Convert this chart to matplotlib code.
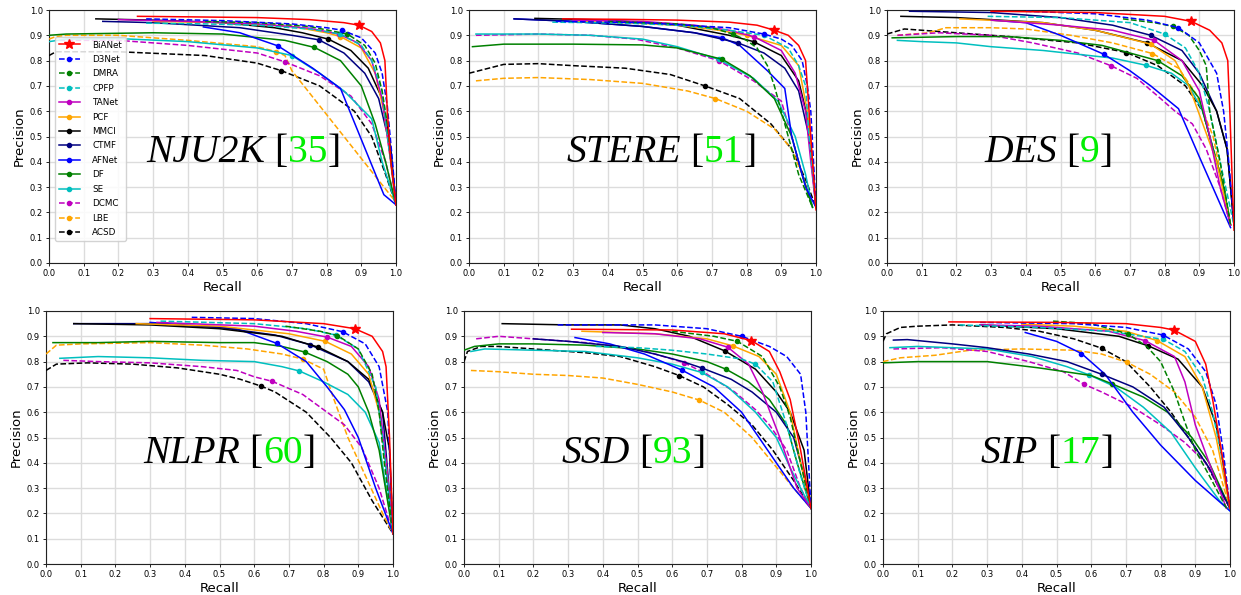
import matplotlib
matplotlib.use('Agg')
import matplotlib.pyplot as plt
import numpy as np

METHODS = ['BiANet', 'D3Net', 'DMRA', 'CPFP', 'TANet', 'PCF', 'MMCI', 'CTMF',
           'AFNet', 'DF', 'SE', 'DCMC', 'LBE', 'ACSD']
COLORS = ['r', 'b', 'g', 'c', 'm', 'orange', 'k', 'navy',
          'b', 'g', 'c', 'm', 'orange', 'k']
STYLES = ['-', '--', '--', '--', '-', '-', '-', '-', '-', '-', '-', '--', '--', '--']
MARKERS = ['*'] + ['o'] * 13

# each entry: (recall list, precision list, recall of the max-F marker)
NJU2K = {
    'BiANet': ([0.255, 0.4, 0.6, 0.75, 0.85, 0.893, 0.93, 0.955, 0.968, 0.975, 0.985, 1.0],
               [0.975, 0.973, 0.97, 0.962, 0.95, 0.94, 0.915, 0.87, 0.80, 0.60, 0.40, 0.23], 0.893),
    'D3Net': ([0.28, 0.5, 0.7, 0.8, 0.845, 0.9, 0.94, 0.96, 0.975, 0.99, 1.0],
              [0.965, 0.958, 0.945, 0.93, 0.92, 0.89, 0.83, 0.75, 0.62, 0.40, 0.23], 0.845),
    'DMRA': ([0.45, 0.6, 0.75, 0.86, 0.91, 0.94, 0.96, 0.975, 0.99, 1.0],
             [0.955, 0.95, 0.935, 0.905, 0.86, 0.79, 0.68, 0.55, 0.35, 0.23], 0.86),
    'CPFP': ([0.28, 0.45, 0.6, 0.75, 0.84, 0.9, 0.93, 0.96, 0.98, 1.0],
             [0.948, 0.945, 0.94, 0.925, 0.905, 0.86, 0.8, 0.68, 0.45, 0.23], 0.84),
    'TANet': ([0.2, 0.4, 0.6, 0.75, 0.835, 0.89, 0.93, 0.96, 0.985, 1.0],
              [0.962, 0.955, 0.945, 0.928, 0.905, 0.87, 0.8, 0.65, 0.4, 0.23], 0.835),
    'PCF': ([0.3, 0.5, 0.7, 0.8, 0.84, 0.9, 0.94, 0.965, 0.985, 1.0],
            [0.955, 0.95, 0.935, 0.91, 0.895, 0.85, 0.75, 0.6, 0.4, 0.23], 0.84),
    'MMCI': ([0.135, 0.3, 0.5, 0.65, 0.73, 0.805, 0.87, 0.92, 0.96, 0.98, 1.0],
             [0.965, 0.96, 0.95, 0.93, 0.91, 0.885, 0.84, 0.77, 0.65, 0.5, 0.23], 0.805),
    'CTMF': ([0.155, 0.3, 0.55, 0.7, 0.778, 0.85, 0.91, 0.95, 0.985, 1.0],
             [0.955, 0.95, 0.93, 0.9, 0.882, 0.83, 0.75, 0.65, 0.45, 0.23], 0.778),
    'AFNet': ([0.445, 0.55, 0.66, 0.76, 0.84, 0.965, 1.0],
              [0.933, 0.91, 0.858, 0.77, 0.69, 0.27, 0.23], 0.66),
    'DF': ([0.0, 0.05, 0.3, 0.5, 0.68, 0.765, 0.84, 0.9, 0.94, 0.97, 1.0],
           [0.9, 0.905, 0.91, 0.905, 0.88, 0.852, 0.8, 0.7, 0.55, 0.4, 0.23], 0.765),
    'SE': ([0.0, 0.05, 0.2, 0.4, 0.6, 0.7, 0.78, 0.85, 0.93, 0.96, 1.0],
           [0.875, 0.885, 0.887, 0.875, 0.85, 0.82, 0.75, 0.68, 0.57, 0.4, 0.23], 0.7),
    'DCMC': ([0.03, 0.2, 0.4, 0.6, 0.68, 0.78, 0.87, 0.93, 0.97, 1.0],
             [0.88, 0.88, 0.86, 0.83, 0.795, 0.74, 0.66, 0.55, 0.4, 0.23], 0.68),
    'LBE': ([0.0, 0.02, 0.05, 0.2, 0.4, 0.6, 0.655, 0.68, 0.7, 1.0],
            [0.885, 0.895, 0.9, 0.9, 0.88, 0.855, 0.835, 0.82, 0.76, 0.24], 0.655),
    'ACSD': ([0.0, 0.02, 0.2, 0.45, 0.6, 0.67, 0.78, 0.88, 0.93, 0.97, 1.0],
             [0.82, 0.835, 0.835, 0.82, 0.79, 0.76, 0.7, 0.6, 0.5, 0.35, 0.23], 0.67),
}

STERE = {
    'BiANet': ([0.27, 0.45, 0.6, 0.75, 0.83, 0.88, 0.92, 0.95, 0.97, 0.98, 0.99, 1.0],
               [0.965, 0.963, 0.96, 0.952, 0.94, 0.92, 0.9, 0.86, 0.8, 0.6, 0.4, 0.21], 0.88),
    'D3Net': ([0.25, 0.5, 0.75, 0.85, 0.9, 0.93, 0.96, 0.975, 0.985, 1.0],
              [0.955, 0.95, 0.93, 0.905, 0.885, 0.86, 0.8, 0.7, 0.6, 0.22], 0.85),
    'DMRA': ([0.4, 0.6, 0.7, 0.76, 0.8, 0.83, 0.86, 0.88, 0.9, 0.95, 0.99],
             [0.955, 0.945, 0.93, 0.905, 0.88, 0.85, 0.78, 0.7, 0.6, 0.35, 0.22], 0.76),
    'CPFP': ([0.24, 0.45, 0.6, 0.75, 0.85, 0.92, 0.95, 0.97, 0.98, 1.0],
             [0.952, 0.948, 0.94, 0.92, 0.9, 0.85, 0.78, 0.7, 0.5, 0.22], 0.85),
    'TANet': ([0.3, 0.5, 0.65, 0.75, 0.82, 0.9, 0.94, 0.97, 0.985, 1.0],
              [0.96, 0.955, 0.94, 0.92, 0.895, 0.84, 0.75, 0.6, 0.4, 0.22], 0.82),
    'PCF': ([0.3, 0.45, 0.6, 0.72, 0.8, 0.9, 0.95, 0.975, 0.99, 1.0],
            [0.955, 0.95, 0.94, 0.92, 0.9, 0.86, 0.78, 0.6, 0.4, 0.22], 0.8),
    'MMCI': ([0.19, 0.4, 0.6, 0.75, 0.82, 0.9, 0.95, 0.98, 1.0],
             [0.967, 0.96, 0.94, 0.9, 0.875, 0.82, 0.72, 0.55, 0.22], 0.82),
    'CTMF': ([0.13, 0.3, 0.5, 0.65, 0.775, 0.85, 0.91, 0.95, 0.98, 1.0],
             [0.965, 0.955, 0.935, 0.91, 0.87, 0.83, 0.77, 0.68, 0.5, 0.22], 0.775),
    'AFNet': ([0.13, 0.3, 0.5, 0.65, 0.73, 0.78, 0.86, 0.91, 0.93, 0.97, 1.0],
              [0.965, 0.955, 0.935, 0.91, 0.89, 0.86, 0.76, 0.69, 0.5, 0.3, 0.22], 0.73),
    'DF': ([0.01, 0.1, 0.3, 0.5, 0.6, 0.73, 0.81, 0.88, 0.93, 0.96, 0.99],
           [0.855, 0.865, 0.865, 0.862, 0.85, 0.805, 0.74, 0.65, 0.5, 0.35, 0.22], 0.73),
    'SE': ([0.02, 0.2, 0.35, 0.5, 0.6, 0.72, 0.82, 0.89, 0.94, 0.97, 0.99],
           [0.905, 0.905, 0.9, 0.885, 0.855, 0.805, 0.73, 0.64, 0.5, 0.35, 0.22], 0.72),
    'DCMC': ([0.02, 0.2, 0.35, 0.48, 0.6, 0.72, 0.82, 0.9, 0.93, 0.96, 0.99],
             [0.9, 0.905, 0.9, 0.885, 0.85, 0.8, 0.72, 0.64, 0.5, 0.35, 0.22], 0.72),
    'LBE': ([0.02, 0.1, 0.2, 0.35, 0.5, 0.63, 0.71, 0.8, 0.88, 0.93, 0.96, 0.99],
            [0.72, 0.73, 0.733, 0.725, 0.71, 0.68, 0.65, 0.6, 0.53, 0.45, 0.35, 0.22], 0.71),
    'ACSD': ([0.0, 0.1, 0.2, 0.3, 0.45, 0.58, 0.68, 0.78, 0.87, 0.93, 0.97, 1.0],
             [0.75, 0.785, 0.788, 0.78, 0.77, 0.745, 0.7, 0.65, 0.55, 0.45, 0.33, 0.22], 0.68),
}

DES = {
    'BiANet': ([0.3, 0.6, 0.8, 0.877, 0.93, 0.965, 0.982, 0.988, 0.993, 1.0],
               [0.995, 0.99, 0.975, 0.955, 0.92, 0.87, 0.8, 0.6, 0.4, 0.13], 0.877),
    'D3Net': ([0.4, 0.6, 0.75, 0.84, 0.9, 0.95, 0.97, 0.985, 1.0],
              [0.995, 0.985, 0.96, 0.93, 0.87, 0.75, 0.6, 0.4, 0.15], 0.84),
    'DMRA': ([0.68, 0.77, 0.825, 0.87, 0.9, 0.92, 0.93, 0.96, 0.99],
             [0.965, 0.95, 0.935, 0.9, 0.84, 0.78, 0.6, 0.4, 0.15], 0.825),
    'CPFP': ([0.29, 0.5, 0.7, 0.8, 0.86, 0.9, 0.93, 0.96, 1.0],
             [0.975, 0.97, 0.95, 0.905, 0.85, 0.75, 0.6, 0.4, 0.15], 0.8),
    'TANet': ([0.3, 0.5, 0.65, 0.77, 0.85, 0.9, 0.93, 0.96, 0.99],
              [0.96, 0.94, 0.92, 0.88, 0.8, 0.68, 0.5, 0.3, 0.15], 0.77),
    'PCF': ([0.21, 0.45, 0.6, 0.76, 0.83, 0.87, 0.91, 0.95, 0.99],
            [0.965, 0.95, 0.92, 0.865, 0.8, 0.7, 0.55, 0.4, 0.15], 0.76),
    'MMCI': ([0.04, 0.2, 0.45, 0.6, 0.75, 0.85, 0.91, 0.95, 0.98, 1.0],
             [0.975, 0.97, 0.95, 0.92, 0.87, 0.8, 0.7, 0.6, 0.45, 0.15], 0.75),
    'CTMF': ([0.065, 0.3, 0.5, 0.65, 0.76, 0.85, 0.9, 0.95, 0.98, 1.0],
             [0.995, 0.99, 0.97, 0.94, 0.9, 0.84, 0.75, 0.6, 0.45, 0.15], 0.76),
    'AFNet': ([0.3, 0.4, 0.5, 0.625, 0.7, 0.76, 0.84, 0.9, 0.99],
              [0.96, 0.95, 0.9, 0.825, 0.76, 0.7, 0.61, 0.42, 0.14], 0.625),
    'DF': ([0.015, 0.2, 0.35, 0.5, 0.62, 0.7, 0.78, 0.85, 0.9, 0.93, 0.97, 0.99],
           [0.89, 0.895, 0.895, 0.88, 0.86, 0.83, 0.8, 0.74, 0.65, 0.5, 0.3, 0.15], 0.78),
    'SE': ([0.03, 0.1, 0.2, 0.3, 0.45, 0.55, 0.65, 0.745, 0.82, 0.87, 0.91, 0.94, 0.97, 0.99],
           [0.88, 0.875, 0.87, 0.855, 0.84, 0.825, 0.81, 0.782, 0.75, 0.7, 0.6, 0.45, 0.3, 0.15], 0.745),
    'DCMC': ([0.03, 0.15, 0.3, 0.42, 0.55, 0.645, 0.72, 0.78, 0.83, 0.88, 0.92, 0.96, 0.99],
             [0.9, 0.91, 0.9, 0.87, 0.83, 0.78, 0.73, 0.66, 0.6, 0.55, 0.45, 0.3, 0.15], 0.645),
    'LBE': ([0.03, 0.12, 0.17, 0.3, 0.4, 0.53, 0.65, 0.765, 0.84, 0.89, 0.94, 0.97, 0.99],
            [0.9, 0.91, 0.93, 0.93, 0.925, 0.9, 0.87, 0.828, 0.77, 0.67, 0.5, 0.3, 0.15], 0.765),
    'ACSD': ([0.0, 0.05, 0.1, 0.2, 0.35, 0.55, 0.69, 0.78, 0.86, 0.91, 0.94, 0.97, 0.99],
             [0.905, 0.925, 0.92, 0.91, 0.895, 0.87, 0.832, 0.78, 0.7, 0.6, 0.45, 0.3, 0.15], 0.69),
}

NLPR = {
    'BiANet': ([0.3, 0.6, 0.8, 0.89, 0.94, 0.97, 0.98, 0.99, 1.0],
               [0.97, 0.965, 0.95, 0.93, 0.9, 0.84, 0.78, 0.5, 0.12], 0.89),
    'D3Net': ([0.42, 0.6, 0.75, 0.855, 0.92, 0.96, 0.985, 1.0],
              [0.975, 0.97, 0.95, 0.918, 0.87, 0.78, 0.6, 0.12], 0.855),
    'DMRA': ([0.69, 0.79, 0.84, 0.9, 0.94, 0.96, 0.975, 1.0],
             [0.94, 0.92, 0.903, 0.85, 0.75, 0.6, 0.4, 0.12], 0.84),
    'CPFP': ([0.33, 0.6, 0.75, 0.835, 0.9, 0.95, 0.97, 1.0],
             [0.96, 0.95, 0.93, 0.905, 0.85, 0.7, 0.5, 0.12], 0.835),
    'TANet': ([0.32, 0.6, 0.72, 0.81, 0.88, 0.93, 0.96, 0.98, 1.0],
              [0.955, 0.94, 0.92, 0.897, 0.86, 0.78, 0.65, 0.4, 0.12], 0.81),
    'PCF': ([0.26, 0.5, 0.7, 0.805, 0.88, 0.93, 0.96, 0.98, 1.0],
            [0.95, 0.94, 0.91, 0.88, 0.83, 0.75, 0.6, 0.4, 0.12], 0.805),
    'MMCI': ([0.08, 0.3, 0.5, 0.68, 0.785, 0.87, 0.93, 0.97, 0.99, 1.0],
             [0.95, 0.945, 0.93, 0.9, 0.857, 0.8, 0.73, 0.6, 0.45, 0.12], 0.785),
    'CTMF': ([0.08, 0.3, 0.5, 0.66, 0.76, 0.87, 0.93, 0.97, 1.0],
             [0.95, 0.95, 0.935, 0.905, 0.867, 0.8, 0.72, 0.6, 0.12], 0.76),
    'AFNet': ([0.3, 0.55, 0.665, 0.75, 0.81, 0.86, 0.9, 0.95, 1.0],
              [0.955, 0.93, 0.872, 0.8, 0.7, 0.61, 0.5, 0.3, 0.12], 0.665),
    'DF': ([0.02, 0.15, 0.3, 0.5, 0.6, 0.68, 0.745, 0.81, 0.87, 0.9, 0.93, 0.96, 1.0],
           [0.875, 0.875, 0.88, 0.875, 0.875, 0.86, 0.838, 0.8, 0.75, 0.7, 0.6, 0.45, 0.12], 0.745),
    'SE': ([0.04, 0.15, 0.3, 0.45, 0.6, 0.68, 0.73, 0.8, 0.87, 0.92, 0.96, 0.98, 1.0],
           [0.813, 0.82, 0.815, 0.805, 0.8, 0.78, 0.763, 0.72, 0.67, 0.6, 0.48, 0.3, 0.12], 0.73),
    'DCMC': ([0.05, 0.15, 0.3, 0.45, 0.55, 0.6, 0.652, 0.74, 0.8, 0.86, 0.91, 0.96, 1.0],
             [0.805, 0.8, 0.795, 0.78, 0.765, 0.74, 0.722, 0.67, 0.61, 0.55, 0.46, 0.3, 0.12], 0.652),
    'LBE': ([0.0, 0.03, 0.1, 0.3, 0.45, 0.58, 0.68, 0.74, 0.8, 0.83, 0.87, 0.92, 0.97, 1.0],
            [0.83, 0.865, 0.87, 0.875, 0.865, 0.85, 0.83, 0.81, 0.77, 0.65, 0.5, 0.35, 0.2, 0.12], 0.74),
    'ACSD': ([0.0, 0.03, 0.12, 0.25, 0.38, 0.5, 0.56, 0.62, 0.66, 0.75, 0.82, 0.88, 0.94, 1.0],
             [0.765, 0.79, 0.795, 0.79, 0.775, 0.75, 0.73, 0.703, 0.68, 0.6, 0.5, 0.4, 0.25, 0.12], 0.62),
}

SSD = {
    'BiANet': ([0.31, 0.6, 0.75, 0.828, 0.88, 0.91, 0.94, 0.97, 1.0],
               [0.928, 0.925, 0.91, 0.883, 0.84, 0.76, 0.65, 0.45, 0.22], 0.828),
    'D3Net': ([0.27, 0.55, 0.7, 0.8, 0.88, 0.93, 0.97, 0.985, 1.0],
              [0.945, 0.945, 0.93, 0.9, 0.86, 0.82, 0.75, 0.6, 0.22], 0.8),
    'DMRA': ([0.6, 0.72, 0.788, 0.86, 0.91, 0.94, 0.97, 1.0],
             [0.92, 0.9, 0.88, 0.82, 0.7, 0.58, 0.4, 0.22], 0.788),
    'CPFP': ([0.38, 0.5, 0.6, 0.7, 0.8, 0.84, 0.89, 0.93, 0.97, 1.0],
             [0.86, 0.855, 0.845, 0.83, 0.81, 0.79, 0.72, 0.55, 0.35, 0.22], 0.84),
    'TANet': ([0.4, 0.55, 0.68, 0.76, 0.82, 0.86, 0.91, 0.96, 1.0],
              [0.915, 0.91, 0.89, 0.857, 0.79, 0.68, 0.5, 0.3, 0.22], 0.76),
    'PCF': ([0.34, 0.55, 0.7, 0.775, 0.85, 0.9, 0.94, 0.97, 1.0],
            [0.92, 0.91, 0.89, 0.862, 0.82, 0.75, 0.6, 0.4, 0.22], 0.775),
    'MMCI': ([0.11, 0.3, 0.45, 0.55, 0.65, 0.752, 0.84, 0.9, 0.94, 0.98, 1.0],
             [0.95, 0.945, 0.945, 0.93, 0.9, 0.842, 0.77, 0.68, 0.6, 0.45, 0.22], 0.752),
    'CTMF': ([0.2, 0.3, 0.45, 0.55, 0.63, 0.685, 0.77, 0.83, 0.9, 0.95, 0.98, 1.0],
             [0.89, 0.88, 0.86, 0.83, 0.8, 0.775, 0.73, 0.68, 0.6, 0.5, 0.35, 0.22], 0.685),
    'AFNet': ([0.32, 0.42, 0.52, 0.627, 0.72, 0.8, 0.85, 0.9, 0.95, 1.0],
              [0.895, 0.87, 0.83, 0.767, 0.7, 0.6, 0.5, 0.4, 0.3, 0.22], 0.627),
    'DF': ([0.0, 0.03, 0.1, 0.2, 0.35, 0.5, 0.6, 0.7, 0.755, 0.82, 0.88, 0.93, 0.96, 1.0],
           [0.845, 0.86, 0.87, 0.87, 0.865, 0.85, 0.83, 0.8, 0.77, 0.72, 0.65, 0.55, 0.4, 0.22], 0.755),
    'SE': ([0.02, 0.06, 0.2, 0.35, 0.5, 0.6, 0.685, 0.76, 0.84, 0.9, 0.94, 1.0],
           [0.84, 0.85, 0.845, 0.84, 0.815, 0.79, 0.757, 0.7, 0.6, 0.5, 0.38, 0.22], 0.685),
    'DCMC': ([0.035, 0.1, 0.2, 0.35, 0.5, 0.6, 0.635, 0.7, 0.78, 0.84, 0.88, 0.93, 0.97, 1.0],
             [0.89, 0.9, 0.89, 0.875, 0.85, 0.81, 0.795, 0.75, 0.68, 0.61, 0.55, 0.45, 0.3, 0.22], 0.635),
    'LBE': ([0.02, 0.1, 0.2, 0.3, 0.4, 0.5, 0.6, 0.678, 0.75, 0.83, 0.89, 0.95, 1.0],
            [0.765, 0.76, 0.75, 0.745, 0.735, 0.71, 0.68, 0.648, 0.6, 0.5, 0.4, 0.3, 0.22], 0.678),
    'ACSD': ([0.0, 0.01, 0.05, 0.1, 0.2, 0.35, 0.45, 0.55, 0.62, 0.69, 0.76, 0.83, 0.89, 0.95, 1.0],
             [0.8, 0.84, 0.86, 0.86, 0.85, 0.835, 0.82, 0.78, 0.745, 0.7, 0.63, 0.55, 0.45, 0.33, 0.22], 0.62),
}

SIP = {
    'BiANet': ([0.19, 0.5, 0.7, 0.8, 0.838, 0.9, 0.93, 0.95, 0.975, 1.0],
               [0.957, 0.955, 0.95, 0.935, 0.925, 0.88, 0.79, 0.65, 0.45, 0.22], 0.838),
    'D3Net': ([0.28, 0.55, 0.7, 0.807, 0.88, 0.93, 0.96, 0.98, 1.0],
              [0.955, 0.95, 0.935, 0.905, 0.85, 0.76, 0.63, 0.45, 0.22], 0.807),
    'DMRA': ([0.49, 0.6, 0.705, 0.76, 0.8, 0.84, 0.87, 0.9, 0.94, 0.99],
             [0.96, 0.95, 0.91, 0.86, 0.8, 0.68, 0.56, 0.45, 0.35, 0.22], 0.705),
    'CPFP': ([0.22, 0.45, 0.65, 0.808, 0.87, 0.92, 0.95, 0.98, 1.0],
             [0.945, 0.935, 0.92, 0.888, 0.84, 0.74, 0.6, 0.4, 0.22], 0.808),
    'TANet': ([0.28, 0.45, 0.65, 0.755, 0.84, 0.87, 0.9, 0.94, 0.99],
              [0.945, 0.94, 0.92, 0.883, 0.82, 0.72, 0.55, 0.4, 0.22], 0.755),
    'PCF': ([0.4, 0.55, 0.7, 0.79, 0.87, 0.92, 0.96, 1.0],
            [0.948, 0.94, 0.92, 0.883, 0.82, 0.7, 0.5, 0.22], 0.79),
    'MMCI': ([0.28, 0.5, 0.68, 0.765, 0.85, 0.92, 0.96, 0.98, 1.0],
             [0.945, 0.93, 0.9, 0.862, 0.81, 0.7, 0.55, 0.4, 0.22], 0.765),
    'CTMF': ([0.03, 0.07, 0.2, 0.3, 0.42, 0.53, 0.63, 0.72, 0.81, 0.88, 0.94, 1.0],
             [0.885, 0.887, 0.87, 0.855, 0.83, 0.8, 0.75, 0.7, 0.62, 0.5, 0.38, 0.22], 0.63),
    'AFNet': ([0.41, 0.5, 0.572, 0.64, 0.72, 0.8, 0.9, 1.0],
              [0.915, 0.88, 0.832, 0.75, 0.6, 0.47, 0.33, 0.21], 0.572),
    'DF': ([0.0, 0.1, 0.3, 0.45, 0.6, 0.66, 0.75, 0.82, 0.89, 0.94, 1.0],
           [0.795, 0.8, 0.8, 0.775, 0.745, 0.712, 0.66, 0.6, 0.5, 0.4, 0.22], 0.66),
    'SE': ([0.02, 0.1, 0.3, 0.43, 0.53, 0.593, 0.67, 0.75, 0.83, 0.9, 0.97, 1.0],
           [0.855, 0.86, 0.85, 0.82, 0.78, 0.748, 0.7, 0.62, 0.52, 0.38, 0.25, 0.21], 0.593),
    'DCMC': ([0.03, 0.17, 0.3, 0.42, 0.52, 0.58, 0.63, 0.72, 0.8, 0.87, 0.93, 1.0],
             [0.85, 0.855, 0.84, 0.8, 0.76, 0.71, 0.68, 0.62, 0.55, 0.48, 0.4, 0.22], 0.58),
    'LBE': ([0.0, 0.05, 0.15, 0.25, 0.4, 0.55, 0.63, 0.703, 0.77, 0.84, 0.9, 0.95, 1.0],
            [0.8, 0.815, 0.825, 0.845, 0.85, 0.845, 0.83, 0.797, 0.75, 0.68, 0.58, 0.45, 0.22], 0.703),
    'ACSD': ([0.0, 0.01, 0.05, 0.1, 0.2, 0.35, 0.45, 0.55, 0.63, 0.7, 0.77, 0.83, 0.88, 0.93, 1.0],
             [0.88, 0.91, 0.935, 0.94, 0.945, 0.935, 0.92, 0.89, 0.853, 0.8, 0.7, 0.6, 0.5, 0.4, 0.22], 0.63),
}

DATASETS = [('NJU2K', '35', NJU2K), ('STERE', '51', STERE), ('DES', '9', DES),
            ('NLPR', '60', NLPR), ('SSD', '93', SSD), ('SIP', '17', SIP)]
TICKS = [0.0, 0.1, 0.2, 0.3, 0.4, 0.5, 0.6, 0.7, 0.8, 0.9, 1.0]

W, H = 1241, 595
fig = plt.figure(figsize=(W / 100, H / 100), dpi=100)
boxes = [(49, 10), (469, 10), (887, 10), (46, 311), (464, 311), (883, 311)]
AW, AH = 347, 253

axes = []
for (name, ref, data), (lx, ty) in zip(DATASETS, boxes):
    ax = fig.add_axes([lx / W, 1 - (ty + AH) / H, AW / W, AH / H])
    axes.append(ax)
    n = len(METHODS)
    for i, m in enumerate(METHODS):
        r, p, br = data[m]
        idx = int(np.argmin(np.abs(np.array(r) - br)))
        ms = 7.5 if MARKERS[i] == '*' else 3.0
        ax.plot(r, p, color=COLORS[i], ls=STYLES[i], lw=1.1,
                marker=MARKERS[i], markevery=[idx], ms=ms,
                label=m, zorder=3 + (n - i) * 0.01)
    ax.set_xlim(0, 1)
    ax.set_ylim(0, 1)
    ax.set_xticks(TICKS)
    ax.set_yticks(TICKS)
    ax.set_xticklabels(['%.1f' % t for t in TICKS])
    ax.set_yticklabels(['%.1f' % t for t in TICKS])
    ax.tick_params(labelsize=6, length=2.5, width=0.6, pad=2)
    ax.grid(True, color='#dcdcdc', lw=1.0)
    ax.set_axisbelow(True)
    ax.set_xlabel('Recall', fontsize=9.5, labelpad=2)
    ax.set_ylabel('Precision', fontsize=9.5, labelpad=3)
    for s in ax.spines.values():
        s.set_linewidth(0.8)
        s.set_color('#222222')

leg = axes[0].legend(loc='upper left', bbox_to_anchor=(0.017, 0.895), borderaxespad=0,
                     fontsize=6.3, labelspacing=0.62, handlelength=2.4, handletextpad=1.4,
                     framealpha=0.85, edgecolor='#cccccc', borderpad=0.45)
leg.set_zorder(10)

fig.canvas.draw()
renderer = fig.canvas.get_renderer()
for ax, (name, ref, data) in zip(axes, DATASETS):
    x = 0.28
    parts = [(name, 'italic', 'black'), (' [', 'normal', 'black'),
             (ref, 'normal', '#00ee00'), (']', 'normal', 'black')]
    for txt, style, col in parts:
        t = ax.text(x, 0.40, txt, transform=ax.transAxes, fontsize=28.5,
                    family='Liberation Serif', style=style, color=col,
                    va='baseline', ha='left', zorder=8)
        bb = t.get_window_extent(renderer)
        x = ax.transAxes.inverted().transform((bb.x1, bb.y0))[0]

fig.savefig('out.png', dpi=100)
